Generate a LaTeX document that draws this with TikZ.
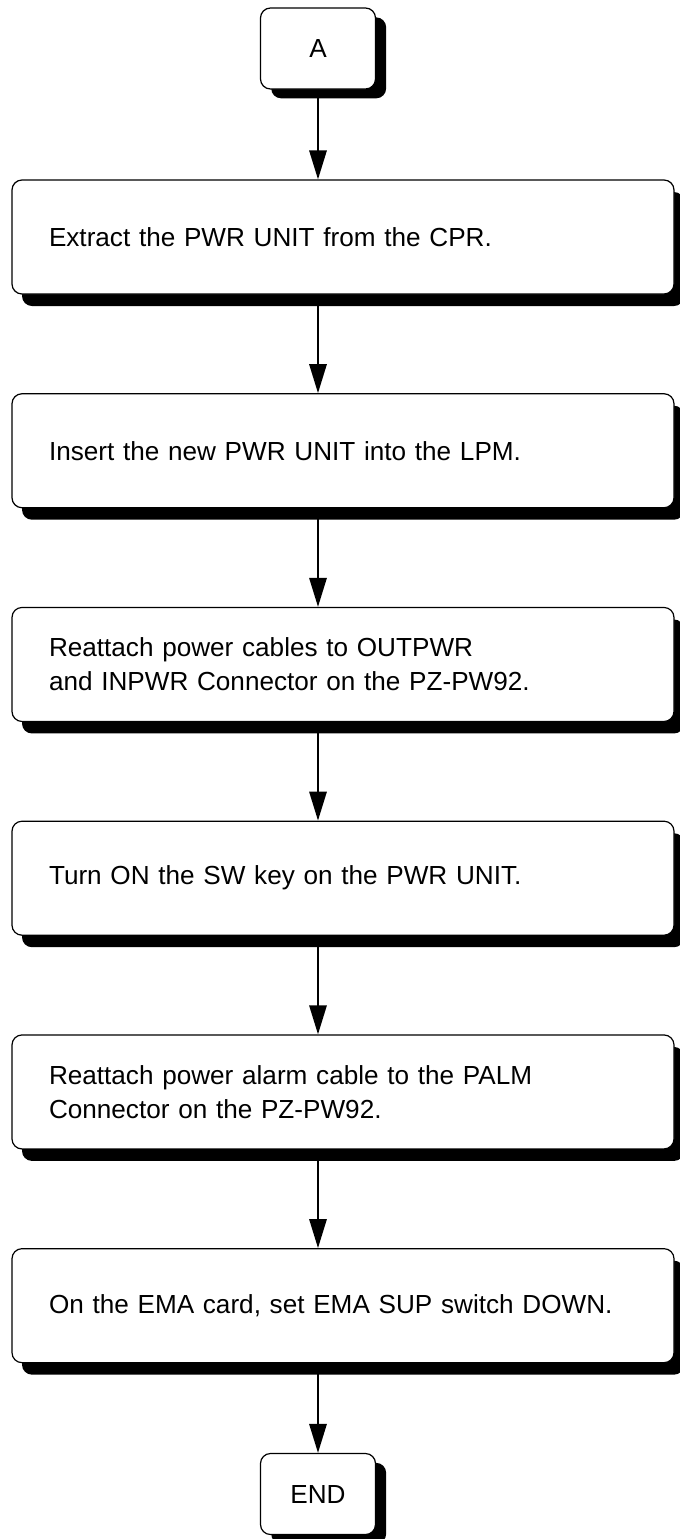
\documentclass[tikz,border=0pt]{standalone}
\usepackage{fontspec}
\setmainfont{Liberation Sans}
\usetikzlibrary{positioning, shadows, arrows.meta}

\begin{document}
\begin{tikzpicture}[
  x=0.75pt, y=0.75pt,
  font=\fontsize{19.6}{25.5}\selectfont,
  stepbox/.style={draw, fill=white, rounded corners=7.5pt, line width=0.9pt,
                  text width=441pt, inner xsep=27.75pt, minimum height=85.5pt,
                  align=left,
                  drop shadow={shadow xshift=7.5pt, shadow yshift=-9pt,
                               fill=black, opacity=1}},
  termbox/.style={draw, fill=white, rounded corners=7.5pt, line width=0.9pt,
                  minimum width=86.25pt, minimum height=60.75pt,
                  drop shadow={shadow xshift=8pt, shadow yshift=-7pt,
                               fill=black, opacity=1}},
  flow/.style={line width=1.5pt, -{Triangle[length=21.75pt, width=13pt]}},
  node distance=73.9pt,
]
  \useasboundingbox (0,0) rectangle (679,-1539);

  % start terminal
  \node[termbox] (a) at (318,-48.5) {A};

  % procedure steps
  \node[stepbox] (s1) at (343,-237) {Extract the PWR UNIT from the CPR.};
  \node[stepbox, below=of s1] (s2) {Insert the new PWR UNIT into the LPM.};
  \node[stepbox, below=of s2] (s3) {Reattach power cables to OUTPWR\\
                                    and INPWR Connector on the PZ-PW92.};
  \node[stepbox, below=of s3] (s4) {Turn ON the SW key on the PWR UNIT.};
  \node[stepbox, below=of s4] (s5) {Reattach power alarm cable to the PALM\\
                                    Connector on the PZ-PW92.};
  \node[stepbox, below=of s5] (s6) {On the EMA card, set EMA SUP switch DOWN.};

  % end terminal
  \node[termbox] (e) at (318,-1494) {END};

  % connectors
  \draw[flow] (a.south) -- (a.south |- s1.north);
  \foreach \u/\v in {s1/s2, s2/s3, s3/s4, s4/s5, s5/s6}
    \draw[flow] (a.south |- \u.south) -- (a.south |- \v.north);
  \draw[flow] (e.north |- s6.south) -- (e.north);
\end{tikzpicture}
\end{document}
